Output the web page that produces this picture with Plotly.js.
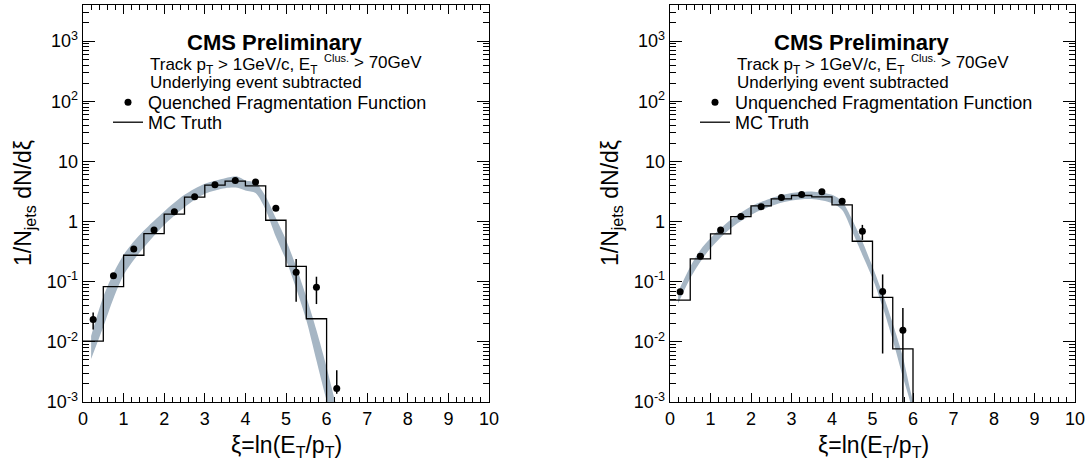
<!DOCTYPE html>
<html>
<head>
<meta charset="utf-8">
<script src="https://cdn.plot.ly/plotly-3.0.1.min.js"></script>
<style>html,body{margin:0;padding:0;background:#fff;}#chart{width:1090px;height:466px;}</style>
</head>
<body>
<div id="chart"></div>
<script>
// ---------- data ----------
const xiPoints = [0.25, 0.75, 1.25, 1.75, 2.25, 2.75, 3.25, 3.75, 4.25, 4.75, 5.25, 5.75, 6.25];
const quenchedFF = [0.0235, 0.126, 0.35, 0.726, 1.45, 2.58, 4.08, 4.82, 4.53, 1.67, 0.143, 0.0805, 0.00167];
const quenchedErrPlus = [0.0073, 0.008, 0.02, 0.03, 0.05, 0.08, 0.12, 0.14, 0.15, 0.1, 0.096, 0.0405, 0.0017];
const quenchedErrMinus = [0.0075, 0.008, 0.02, 0.03, 0.05, 0.08, 0.12, 0.14, 0.15, 0.1, 0.0966, 0.038, 0.0003];

const xiPointsUnq = [0.25, 0.75, 1.25, 1.75, 2.25, 2.75, 3.25, 3.75, 4.25, 4.75, 5.25, 5.75];
const unquenchedFF = [0.068, 0.264, 0.726, 1.21, 1.76, 2.51, 2.82, 3.12, 2.18, 0.69, 0.069, 0.0156];
const unquenchedErrPlus = [0.004, 0.01, 0.02, 0.03, 0.04, 0.06, 0.07, 0.08, 0.08, 0.19, 0.063, 0.0208];
const unquenchedErrMinus = [0.004, 0.01, 0.02, 0.03, 0.04, 0.06, 0.07, 0.08, 0.08, 0.195, 0.0626, 0.0152];

const mcBinLowEdges = [0, 0.5, 1.0, 1.5, 2.0, 2.5, 3.0, 3.5, 4.0, 4.5, 5.0, 5.5, 6.0];
const mcTruthQuenched = [0.0103, 0.0826, 0.275, 0.631, 1.325, 2.54, 4.03, 4.70, 3.93, 1.05, 0.18, 0.0242];
const mcTruthUnquenched = [0.0495, 0.239, 0.623, 1.21, 1.82, 2.39, 2.71, 2.58, 1.90, 0.47, 0.0548, 0.00764];
const emptyBinLevel = 1e-6; // bins beyond xi = 6 are empty

const bandXQ = [0.2, 0.5, 0.75, 1.0, 1.25, 1.5, 2.0, 2.5, 3.0, 3.5, 3.8, 4.0, 4.25, 4.5, 4.75, 5.0, 5.25, 5.5, 5.75, 6.0, 6.2, 6.35];
const bandHighQ = [0.0125, 0.056, 0.138, 0.278, 0.464, 0.708, 1.47, 2.78, 4.25, 5.27, 5.62, 4.82, 4.47, 2.61, 1.14, 0.495, 0.178, 0.056, 0.0156, 0.0038, 0.0011, 0.0005];
const bandLowQ = [0.0052, 0.0178, 0.0527, 0.129, 0.23, 0.373, 0.88, 1.73, 2.89, 3.59, 3.64, 3.29, 2.97, 1.56, 0.56, 0.23, 0.0774, 0.023, 0.0049, 0.00107, 0.0004, 0.0002];

const bandXU = [0.2, 0.5, 0.75, 1.0, 1.5, 2.0, 2.5, 3.0, 3.5, 4.0, 4.25, 4.5, 4.75, 5.0, 5.25, 5.5, 5.75, 5.93, 6.05];
const bandHighU = [0.068, 0.178, 0.337, 0.527, 1.07, 1.78, 2.45, 2.97, 3.16, 2.78, 2.15, 1.07, 0.464, 0.178, 0.064, 0.0202, 0.0056, 0.0016, 0.0007];
const bandLowU = [0.0436, 0.114, 0.215, 0.36, 0.774, 1.29, 1.82, 2.24, 2.36, 2.02, 1.56, 0.68, 0.278, 0.114, 0.0383, 0.0107, 0.0026, 0.001, 0.0004];

const yTickVals = [1e-3, 1e-2, 1e-1, 1, 10, 100, 1000];
const yTickText = ['10<sup>-3</sup>', '10<sup>-2</sup>', '10<sup>-1</sup>', '1', '10', '10<sup>2</sup>', '10<sup>3</sup>'];
const xTickVals = [0, 1, 2, 3, 4, 5, 6, 7, 8, 9, 10];
const xTickText = ['0', '1', '2', '3', '4', '5', '6', '7', '8', '9', '10'];

// ---------- styling ----------
const W = 1090, H = 466;
const FONT = 'Liberation Sans, Arial, Helvetica, sans-serif';
const bandColor = 'rgb(166,182,196)';
const px = v => v / W;
const py = v => 1 - v / H;

const minorY = [];
for (let e = -3; e <= 3; e++) for (let m = 2; m <= 9; m++) minorY.push(m * Math.pow(10, e));

function bandTrace(xs, hi, lo, xa, ya) {
  return {
    x: xs.concat(xs.slice().reverse()),
    y: hi.concat(lo.slice().reverse()),
    xaxis: xa, yaxis: ya, type: 'scatter', mode: 'lines',
    fill: 'toself', fillcolor: bandColor,
    line: {width: 0, shape: 'spline', smoothing: 0.8, color: bandColor},
    showlegend: false, hoverinfo: 'skip'
  };
}
function histTrace(vals, xa, ya, leg) {
  return {
    x: mcBinLowEdges.slice(), y: vals.concat([emptyBinLevel]),
    xaxis: xa, yaxis: ya, type: 'scatter', mode: 'lines',
    line: {color: '#000', width: 1.3, shape: 'hv'},
    name: 'MC Truth', legend: leg
  };
}
function pointTrace(xs, vals, ep, em, name, xa, ya, leg) {
  return {
    x: xs, y: vals, xaxis: xa, yaxis: ya, type: 'scatter', mode: 'markers',
    marker: {color: '#000', size: 7},
    error_y: {type: 'data', symmetric: false, array: ep, arrayminus: em, color: '#000', thickness: 1.5, width: 0},
    name: name, legend: leg
  };
}

const data = [
  bandTrace(bandXQ, bandHighQ, bandLowQ, 'x', 'y'),
  histTrace(mcTruthQuenched, 'x', 'y', 'legend3'),
  pointTrace(xiPoints, quenchedFF, quenchedErrPlus, quenchedErrMinus, 'Quenched Fragmentation Function', 'x', 'y', 'legend'),
  bandTrace(bandXU, bandHighU, bandLowU, 'x2', 'y2'),
  histTrace(mcTruthUnquenched, 'x2', 'y2', 'legend4'),
  pointTrace(xiPointsUnq, unquenchedFF, unquenchedErrPlus, unquenchedErrMinus, 'Unquenched Fragmentation Function', 'x2', 'y2', 'legend2')
];

function xAxis(domain, anchor) {
  return {
    domain: domain, anchor: anchor, range: [0, 10], tickmode: 'array', tickvals: xTickVals, ticktext: xTickText,
    showline: true, linecolor: '#000', linewidth: 1.3, mirror: 'allticks',
    ticks: 'inside', ticklen: 9, tickwidth: 1, tickcolor: '#000',
    minor: {dtick: 0.2, tick0: 0, ticks: 'inside', ticklen: 5, tickwidth: 1, tickcolor: '#000', showgrid: false},
    showgrid: false, zeroline: false, tickfont: {family: FONT, size: 18, color: '#000'}
  };
}
function yAxis(domain, anchor) {
  return {
    domain: domain, anchor: anchor, type: 'log', range: [-3, 3.6], tickmode: 'array', tickvals: yTickVals, ticktext: yTickText,
    showline: true, linecolor: '#000', linewidth: 1.3, mirror: 'allticks',
    ticks: 'inside', ticklen: 12, tickwidth: 1, tickcolor: '#000',
    minor: {tickmode: 'array', tickvals: minorY, ticks: 'inside', ticklen: 6, tickwidth: 1, tickcolor: '#000', showgrid: false},
    showgrid: false, zeroline: false, tickfont: {family: FONT, size: 18, color: '#000'}
  };
}

const yDom = [64 / H, 461 / H];
const annotations = [];
const panels = [{dx: 0}, {dx: 587}];
panels.forEach(p => {
  const base = {xref: 'paper', yref: 'paper', showarrow: false, font: {family: FONT, size: 17, color: '#000'}};
  annotations.push(Object.assign({}, base, {x: px(275 + p.dx), y: py(42), xanchor: 'center', yanchor: 'middle', text: '<b>CMS Preliminary</b>', font: {family: FONT, size: 22, color: '#000'}}));
  annotations.push(Object.assign({}, base, {x: px(148 + p.dx), y: py(66), xanchor: 'left', yanchor: 'middle', text: 'Track p<sub>T</sub> > 1GeV/c, E<sub>T</sub>'}));
  annotations.push(Object.assign({}, base, {x: px(322 + p.dx), y: py(58), xanchor: 'left', yanchor: 'middle', text: 'Clus.', font: {family: FONT, size: 11, color: '#000'}}));
  annotations.push(Object.assign({}, base, {x: px(352 + p.dx), y: py(63), xanchor: 'left', yanchor: 'middle', text: '> 70GeV'}));
  annotations.push(Object.assign({}, base, {x: px(148 + p.dx), y: py(83), xanchor: 'left', yanchor: 'middle', text: 'Underlying event subtracted'}));
  annotations.push(Object.assign({}, base, {x: px(286 + p.dx), y: py(446), xanchor: 'center', yanchor: 'middle', text: 'ξ=ln(E<sub>T</sub>/p<sub>T</sub>)', font: {family: FONT, size: 23, color: '#000'}}));
  annotations.push(Object.assign({}, base, {x: px(24 + p.dx), y: py(203), xanchor: 'center', yanchor: 'middle', textangle: -90, text: '1/N<sub>jets</sub> dN/dξ', font: {family: FONT, size: 23, color: '#000'}}));
});

const legendStyle = {xanchor: 'left', yanchor: 'top', bgcolor: 'rgba(0,0,0,0)', borderwidth: 0,
  font: {family: FONT, size: 18, color: '#000'}, itemwidth: 30, tracegroupgap: 0, itemclick: false};

const layout = {
  width: W, height: H, margin: {l: 0, r: 0, t: 0, b: 0, pad: 0},
  paper_bgcolor: '#fff', plot_bgcolor: '#fff', showlegend: true,
  xaxis: xAxis([83 / W, 489 / W], 'y'), yaxis: yAxis(yDom, 'x'),
  xaxis2: xAxis([670 / W, 1075 / W], 'y2'), yaxis2: yAxis(yDom, 'x2'),
  legend: Object.assign({x: px(108), y: py(84)}, legendStyle),
  legend3: Object.assign({x: px(108), y: py(104)}, legendStyle),
  legend2: Object.assign({x: px(108 + 587), y: py(84)}, legendStyle),
  legend4: Object.assign({x: px(108 + 587), y: py(104)}, legendStyle),
  annotations: annotations
};

Plotly.newPlot('chart', data, layout, {displayModeBar: false, staticPlot: true});
</script>
</body>
</html>
